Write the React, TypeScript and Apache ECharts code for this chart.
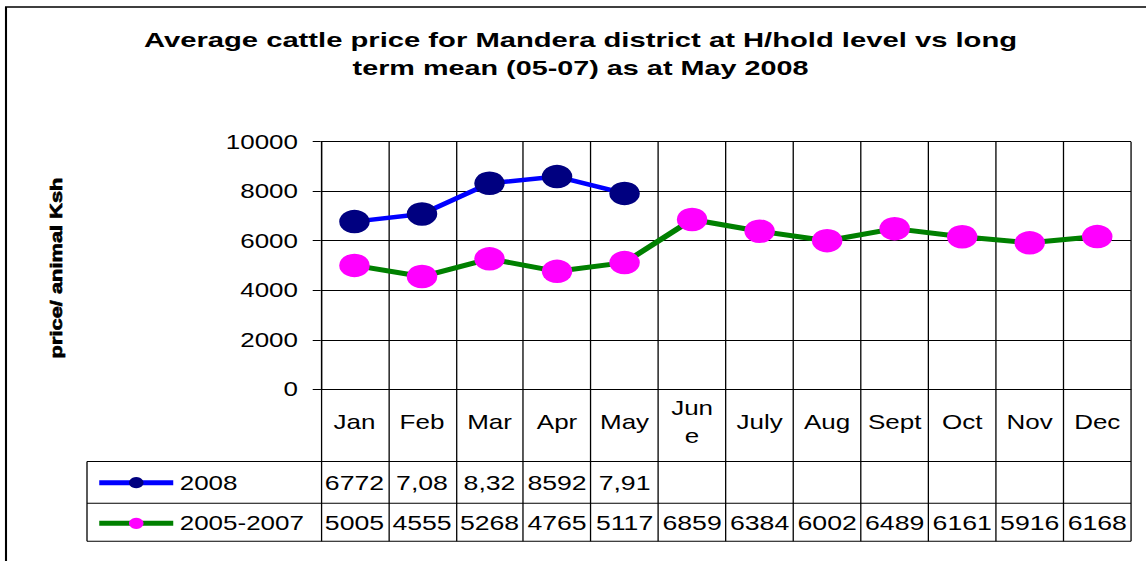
import React, { useEffect, useRef } from 'react';
import * as echarts from 'echarts';

// ---------- data ----------
const months = ['Jan', 'Feb', 'Mar', 'Apr', 'May', 'June', 'July', 'Aug', 'Sept', 'Oct', 'Nov', 'Dec'];
const price2008: (number | null)[] = [6772, 7080, 8320, 8592, 7910, null, null, null, null, null, null, null];
const priceMean: number[] = [5005, 4555, 5268, 4765, 5117, 6859, 6384, 6002, 6489, 6161, 5916, 6168];
// data-table cell texts as printed in the picture
const table2008 = ['6772', '7,08', '8,32', '8592', '7,91', '', '', '', '', '', '', ''];
const tableMean = priceMean.map((v) => String(v));
const seriesNames = ['2008', '2005-2007'];
const yMin = 0;
const yMax = 10000;
const yStep = 2000;
const titleLines = [
  'Average cattle price for Mandera district at H/hold level vs long',
  'term mean (05-07) as at May 2008',
];
const yAxisName = 'price/ animal Ksh';

// ---------- layout ----------
const W = 882;
const H = 561;
const SX = 1146 / W; // the reference picture is stretched horizontally
const px = (x: number) => x / SX; // screen x -> design x
const FF = "'Liberation Sans', Arial, Helvetica, sans-serif";

const gridLeft = px(320.7);
const gridRightX = px(1131);
const gridTop = 141.7;
const zeroY = 389.3;
const rowLine1 = 461.5;
const rowLine2 = 503.3;
const rowLine3 = 541.3;
const legendLeft = px(87);

const hLine = (x1: number, x2: number, y: number) => ({
  type: 'line',
  shape: { x1, y1: y, x2, y2: y },
  style: { stroke: '#000', lineWidth: 1 },
  silent: true,
});

const option: any = {
  animation: false,
  backgroundColor: '#fff',
  textStyle: { fontFamily: FF, color: '#000' },
  grid: {
    left: gridLeft,
    right: W - gridRightX,
    top: gridTop,
    bottom: H - zeroY,
    containLabel: false,
  },
  legend: {
    orient: 'vertical',
    left: px(96),
    top: 472.7,
    padding: 0,
    itemWidth: px(170) - px(96),
    itemHeight: 14,
    itemGap: 20.6,
    selectedMode: false,
    data: seriesNames,
    lineStyle: { width: 5 },
    textStyle: { fontSize: 20, color: '#000', fontFamily: FF },
  },
  xAxis: [
    {
      type: 'category',
      data: months,
      position: 'bottom',
      offset: 0,
      boundaryGap: true,
      axisLine: { show: true, lineStyle: { color: '#000', width: 1 } },
      axisTick: { show: true, interval: 0, length: rowLine3 - zeroY, lineStyle: { color: '#000', width: 1 } },
      splitLine: { show: true, interval: 0, lineStyle: { color: '#000', width: 1 } },
      axisLabel: {
        interval: 0,
        margin: 422.5 - zeroY,
        verticalAlign: 'middle',
        fontSize: 20,
        lineHeight: 28,
        color: '#000',
        fontFamily: FF,
        formatter: (v: string) => (v === 'June' ? 'Jun\ne' : v),
      },
    },
    {
      type: 'category',
      data: months,
      position: 'bottom',
      offset: 0,
      boundaryGap: true,
      axisLine: { show: false },
      axisTick: { show: false },
      splitLine: { show: false },
      axisLabel: {
        interval: 0,
        margin: 482.4 - zeroY,
        verticalAlign: 'middle',
        fontSize: 20.5,
        color: '#000',
        fontFamily: FF,
        formatter: (_v: string, i: number) => table2008[i],
      },
    },
    {
      type: 'category',
      data: months,
      position: 'bottom',
      offset: 0,
      boundaryGap: true,
      axisLine: { show: false },
      axisTick: { show: false },
      splitLine: { show: false },
      axisLabel: {
        interval: 0,
        margin: 522.5 - zeroY,
        verticalAlign: 'middle',
        fontSize: 20.5,
        color: '#000',
        fontFamily: FF,
        formatter: (_v: string, i: number) => tableMean[i],
      },
    },
  ],
  yAxis: {
    type: 'value',
    min: yMin,
    max: yMax,
    interval: yStep,
    axisLine: { show: true, lineStyle: { color: '#000', width: 1 } },
    axisTick: { show: true, length: px(8), lineStyle: { color: '#000', width: 1 } },
    splitLine: { show: true, lineStyle: { color: '#000', width: 1 } },
    axisLabel: {
      margin: gridLeft - px(298),
      fontSize: 20,
      color: '#000',
      fontFamily: FF,
      formatter: (v: number) => String(v),
    },
  },
  series: [
    {
      name: seriesNames[1],
      type: 'line',
      xAxisIndex: 0,
      data: priceMean,
      symbol: 'circle',
      symbolSize: 23.5,
      lineStyle: { color: '#008000', width: 5 },
      itemStyle: { color: '#FF00FF' },
      z: 3,
    },
    {
      name: seriesNames[0],
      type: 'line',
      xAxisIndex: 0,
      data: price2008,
      connectNulls: false,
      symbol: 'circle',
      symbolSize: 23.5,
      lineStyle: { color: '#0000FF', width: 4.5 },
      itemStyle: { color: '#000080' },
      z: 4,
    },
  ],
  graphic: [
    {
      type: 'rect',
      shape: { x: px(6), y: 7, width: 2000, height: 2000 },
      style: { fill: 'none', stroke: '#000', lineWidth: 1.6 },
      silent: true,
      z: -1,
    },
    {
      type: 'text',
      x: px(580.5),
      y: 39.3,
      scaleX: 1.07,
      style: {
        text: titleLines[0],
        fontSize: 21,
        fontWeight: 'bold',
        fontFamily: FF,
        fill: '#000',
        align: 'center',
        verticalAlign: 'middle',
      },
    },
    {
      type: 'text',
      x: px(580.5),
      y: 67.6,
      scaleX: 1.055,
      style: {
        text: titleLines[1],
        fontSize: 21,
        fontWeight: 'bold',
        fontFamily: FF,
        fill: '#000',
        align: 'center',
        verticalAlign: 'middle',
      },
    },
    {
      type: 'text',
      x: px(56),
      y: 268,
      rotation: Math.PI / 2,
      scaleX: 1.68,
      style: {
        text: yAxisName,
        fontSize: 13,
        fontWeight: 'bold',
        fontFamily: FF,
        fill: '#000',
        stroke: '#000',
        lineWidth: 0.5,
        align: 'center',
        verticalAlign: 'middle',
      },
    },
    hLine(legendLeft, gridRightX, rowLine1),
    hLine(legendLeft, gridRightX, rowLine2),
    hLine(legendLeft, gridRightX, rowLine3),
    {
      type: 'line',
      shape: { x1: legendLeft, y1: rowLine1, x2: legendLeft, y2: rowLine3 },
      style: { stroke: '#000', lineWidth: 1 },
      silent: true,
    },
  ],
};

export default function App() {
  const ref = useRef<HTMLDivElement>(null);
  useEffect(() => {
    if (!ref.current) return;
    const chart = echarts.init(ref.current, null, { renderer: 'svg' });
    chart.setOption(option);
    return () => chart.dispose();
  }, []);
  return (
    <div
      ref={ref}
      style={{
        position: 'absolute',
        left: 0,
        top: 0,
        width: W,
        height: H,
        transform: `scaleX(${SX})`,
        transformOrigin: '0 0',
        background: '#fff',
      }}
    />
  );
}
